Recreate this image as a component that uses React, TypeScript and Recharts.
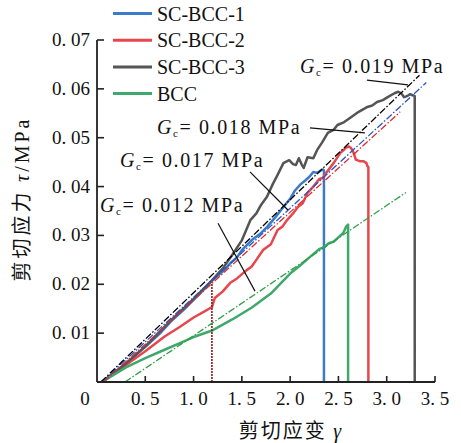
import React from "react";
import { LineChart, Line, XAxis, YAxis, ReferenceLine } from "recharts";

// ---------- data ----------
const strainTicks = [0, 0.5, 1, 1.5, 2, 2.5, 3, 3.5];
const strainTickLabels = ["0", "0. 5", "1. 0", "1. 5", "2. 0", "2. 5", "3. 0", "3. 5"];
const stressTicks = [0.01, 0.02, 0.03, 0.04, 0.05, 0.06, 0.07];
const stressTickLabels = ["0. 01", "0. 02", "0. 03", "0. 04", "0. 05", "0. 06", "0. 07"];

const seriesNames = ["SC-BCC-1", "SC-BCC-2", "SC-BCC-3", "BCC"];
const seriesColors = ["#3b7bc8", "#e8464d", "#555555", "#3fa86b"];
const fitColors = ["#2456c8", "#e02a2a", "#000000", "#2f9e45"];

const scBcc1Strain = [0.05, 0.15, 0.3, 0.5, 0.65, 0.76, 0.9, 1.0, 1.1, 1.2, 1.3, 1.38, 1.45, 1.5, 1.6, 1.7, 1.76, 1.85, 1.93, 2.0, 2.05, 2.11, 2.16, 2.2, 2.24, 2.28, 2.31, 2.34, 2.35, 2.35];
const scBcc1Stress = [0, 0.0014, 0.0038, 0.0072, 0.0099, 0.0123, 0.0148, 0.0168, 0.0188, 0.0209, 0.0226, 0.0243, 0.0255, 0.027, 0.029, 0.0305, 0.0317, 0.0338, 0.0358, 0.0375, 0.0392, 0.0405, 0.0413, 0.042, 0.043, 0.0428, 0.0432, 0.0435, 0.0433, 0];

const scBcc2Strain = [0.05, 0.2, 0.35, 0.5, 0.7, 0.86, 1.0, 1.1, 1.17, 1.19, 1.22, 1.3, 1.38, 1.45, 1.55, 1.6, 1.65, 1.72, 1.8, 1.87, 1.92, 1.97, 2.03, 2.08, 2.13, 2.18, 2.24, 2.3, 2.34, 2.38, 2.45, 2.52, 2.56, 2.58, 2.61, 2.63, 2.65, 2.66, 2.68, 2.72, 2.76, 2.79, 2.8, 2.81, 2.81];
const scBcc2Stress = [0, 0.002, 0.0042, 0.0063, 0.0093, 0.0113, 0.0132, 0.0143, 0.0151, 0.0153, 0.0172, 0.0185, 0.0203, 0.0212, 0.0229, 0.0236, 0.025, 0.027, 0.0282, 0.0311, 0.0318, 0.0332, 0.0345, 0.0358, 0.0366, 0.0387, 0.04, 0.0415, 0.0418, 0.043, 0.0448, 0.0469, 0.0476, 0.048, 0.0482, 0.0479, 0.0472, 0.0468, 0.0455, 0.0452, 0.0452, 0.0448, 0.0442, 0.044, 0];

const scBcc3Strain = [0.05, 0.3, 0.5, 0.76, 1.0, 1.2, 1.3, 1.4, 1.5, 1.59, 1.65, 1.7, 1.76, 1.82, 1.87, 1.93, 1.99, 2.03, 2.06, 2.09, 2.12, 2.14, 2.18, 2.24, 2.28, 2.33, 2.39, 2.45, 2.49, 2.56, 2.63, 2.71, 2.8, 2.85, 2.9, 2.96, 3.01, 3.08, 3.12, 3.15, 3.18, 3.21, 3.24, 3.27, 3.29, 3.29];
const scBcc3Stress = [0, 0.0038, 0.0073, 0.0125, 0.017, 0.021, 0.0232, 0.026, 0.029, 0.0332, 0.0345, 0.0363, 0.0379, 0.0405, 0.0424, 0.0448, 0.0454, 0.0446, 0.0444, 0.0458, 0.0445, 0.0438, 0.046, 0.0458, 0.0475, 0.049, 0.051, 0.0516, 0.0526, 0.0532, 0.0542, 0.0553, 0.0563, 0.0566, 0.0573, 0.0577, 0.0583, 0.0591, 0.0594, 0.0591, 0.0583, 0.0585, 0.0589, 0.0587, 0.0585, 0];

const bccStrain = [0.05, 0.15, 0.3, 0.5, 0.7, 0.9, 1.0, 1.2, 1.4, 1.6, 1.8, 2.0, 2.1, 2.2, 2.3, 2.35, 2.4, 2.45, 2.5, 2.55, 2.58, 2.6, 2.6];
const bccStress = [0, 0.0012, 0.003, 0.0049, 0.0066, 0.0083, 0.0092, 0.0106, 0.0128, 0.0152, 0.0181, 0.0222, 0.0238, 0.0255, 0.0272, 0.0276, 0.0284, 0.0287, 0.0296, 0.0305, 0.0318, 0.0322, 0];

// linear fits (G_c slopes)
const scBcc1FitStrain = [0.05, 3.41];
const scBcc1FitStress = [0, 0.0613];
const scBcc2FitStrain = [0.07, 3.14];
const scBcc2FitStress = [0, 0.0553];
const scBcc3FitStrain = [0.04, 3.34];
const scBcc3FitStress = [0, 0.0628];
const bccFitStrain = [0.29, 3.2];
const bccFitStress = [0, 0.0388];

const markerStrain = [1.19, 1.19];
const markerStress = [0, 0.0203];

// G_c annotations: label, leader start/end in data units
const gcLabels = ["0.019", "0.018", "0.017", "0.012"];
const gcLeaderStrain = [[2.795, 3.22], [2.205, 2.774], [1.584, 1.977], [1.253, 1.636]];
const gcLeaderStress = [[0.0618, 0.0608], [0.052, 0.051], [0.043, 0.0352], [0.0325, 0.0186]];

// ---------- layout ----------
const W = 461;
const H = 443;
const LEFT = 97;
const RIGHT = 435;
const TOP = 40;
const BOTTOM = 382;
const FONT = "Liberation Serif, DejaVu Serif, serif";
const CJK = "Noto Sans CJK SC, sans-serif";

const zip = (xs: number[], ys: number[]) => xs.map((x, i) => ({ x, y: ys[i] }));

const curves = [
  zip(scBcc1Strain, scBcc1Stress),
  zip(scBcc2Strain, scBcc2Stress),
  zip(scBcc3Strain, scBcc3Stress),
  zip(bccStrain, bccStress),
];
const fits = [
  zip(scBcc1FitStrain, scBcc1FitStress),
  zip(scBcc2FitStrain, scBcc2FitStress),
  zip(scBcc3FitStrain, scBcc3FitStress),
  zip(bccFitStrain, bccFitStress),
];
const marker = zip(markerStrain, markerStress);

const XTick = (props: any) => {
  const { payload } = props;
  const cx = payload.coordinate;
  const v = payload.value;
  const label = strainTickLabels[strainTicks.indexOf(v)] ?? String(v);
  return (
    <g>
      {v !== 0 && <line x1={cx} x2={cx} y1={BOTTOM} y2={BOTTOM - 6} stroke="#222" strokeWidth={1.6} />}
      <text x={v === 0 ? cx - 12 : cx} y={405} textAnchor="middle" style={{ fontFamily: FONT, fontSize: 19 }} fill="#111">
        {label}
      </text>
    </g>
  );
};

const YTick = (props: any) => {
  const { payload } = props;
  const cy = payload.coordinate;
  const v = payload.value;
  const idx = stressTicks.findIndex((t) => Math.abs(t - v) < 1e-9);
  const label = idx >= 0 ? stressTickLabels[idx] : String(v);
  return (
    <g>
      <line x1={LEFT} x2={LEFT + 7} y1={cy} y2={cy} stroke="#222" strokeWidth={1.6} />
      <text x={90} y={cy + 6} textAnchor="end" style={{ fontFamily: FONT, fontSize: 19 }} fill="#111">
        {label}
      </text>
    </g>
  );
};

const gcTextPos = [
  { x: 300, y: 73 },
  { x: 157, y: 134 },
  { x: 120, y: 167 },
  { x: 100, y: 212 },
];

export default function App() {
  return (
    <div style={{ position: "absolute", left: 0, top: 0, width: W, height: H, fontFamily: FONT }}>
      <LineChart
        width={W}
        height={H}
        margin={{ top: TOP, right: W - RIGHT, bottom: 0, left: 0 }}
      >
        <XAxis
          dataKey="x"
          type="number"
          domain={[0, 3.5]}
          ticks={strainTicks}
          height={H - BOTTOM}
          tickLine={false}
          axisLine={{ stroke: "#222", strokeWidth: 1.8 }}
          tick={<XTick />}
          interval={0}
          allowDataOverflow
        />
        <YAxis
          dataKey="y"
          type="number"
          domain={[0, 0.07]}
          ticks={stressTicks}
          width={LEFT}
          tickLine={false}
          axisLine={{ stroke: "#222", strokeWidth: 1.8 }}
          tick={<YTick />}
          interval={0}
          allowDataOverflow
        />
        {curves.map((d, i) => (
          <Line
            key={seriesNames[i]}
            data={d}
            dataKey="y"
            type="linear"
            stroke={seriesColors[i]}
            strokeWidth={2.5}
            strokeLinejoin="round"
            dot={false}
            isAnimationActive={false}
          />
        ))}
        <Line
          data={marker}
          dataKey="y"
          type="linear"
          stroke="#8b1c1c"
          strokeWidth={1.6}
          strokeDasharray="2 1"
          dot={false}
          isAnimationActive={false}
        />
        {fits.map((d, i) => (
          <Line
            key={"fit" + i}
            data={d}
            dataKey="y"
            type="linear"
            stroke={fitColors[i]}
            strokeWidth={1.3}
            strokeDasharray="7 2 1.5 2"
            dot={false}
            isAnimationActive={false}
          />
        ))}
        {gcLeaderStrain.map((xs, i) => (
          <ReferenceLine
            key={"lead" + i}
            segment={[
              { x: xs[0], y: gcLeaderStress[i][0] },
              { x: xs[1], y: gcLeaderStress[i][1] },
            ]}
            stroke="#111"
            strokeWidth={1.2}
            ifOverflow="visible"
          />
        ))}
      </LineChart>
      <svg
        width={W}
        height={H}
        style={{ position: "absolute", left: 0, top: 0, pointerEvents: "none" }}
      >
        {/* legend */}
        {seriesNames.map((n, i) => {
          const y = 13.5 + i * 26.7;
          return (
            <g key={n}>
              <line x1={113} x2={152} y1={y} y2={y} stroke={seriesColors[i]} strokeWidth={3} />
              <text x={157} y={y + 7} style={{ fontFamily: FONT, fontSize: 20 }} fill="#111">
                {n}
              </text>
            </g>
          );
        })}
        {/* G_c annotations */}
        {gcLabels.map((g, i) => (
          <text
            key={g}
            x={gcTextPos[i].x}
            y={gcTextPos[i].y}
            style={{ fontFamily: FONT, fontSize: 20, letterSpacing: 1.6 }}
            fill="#111"
          >
            <tspan style={{ fontStyle: "italic" }}>G</tspan>
            <tspan style={{ fontSize: 11 }} dy={3}>c</tspan>
            <tspan dy={-3}>{"= " + g + " MPa"}</tspan>
          </text>
        ))}
        {/* axis titles */}
        <text
          transform="translate(29,199) rotate(-90)"
          textAnchor="middle"
          style={{ fontFamily: CJK, fontSize: 20, letterSpacing: 3 }}
          fill="#111"
        >
          剪切应力 <tspan style={{ fontFamily: FONT, fontStyle: "italic" }}>τ</tspan>
          <tspan style={{ fontFamily: FONT }}>/MPa</tspan>
        </text>
        <text
          x={291}
          y={438}
          textAnchor="middle"
          style={{ fontFamily: CJK, fontSize: 20, letterSpacing: 2 }}
          fill="#111"
        >
          剪切应变 <tspan style={{ fontFamily: FONT, fontStyle: "italic" }}>γ</tspan>
        </text>
      </svg>
    </div>
  );
}
